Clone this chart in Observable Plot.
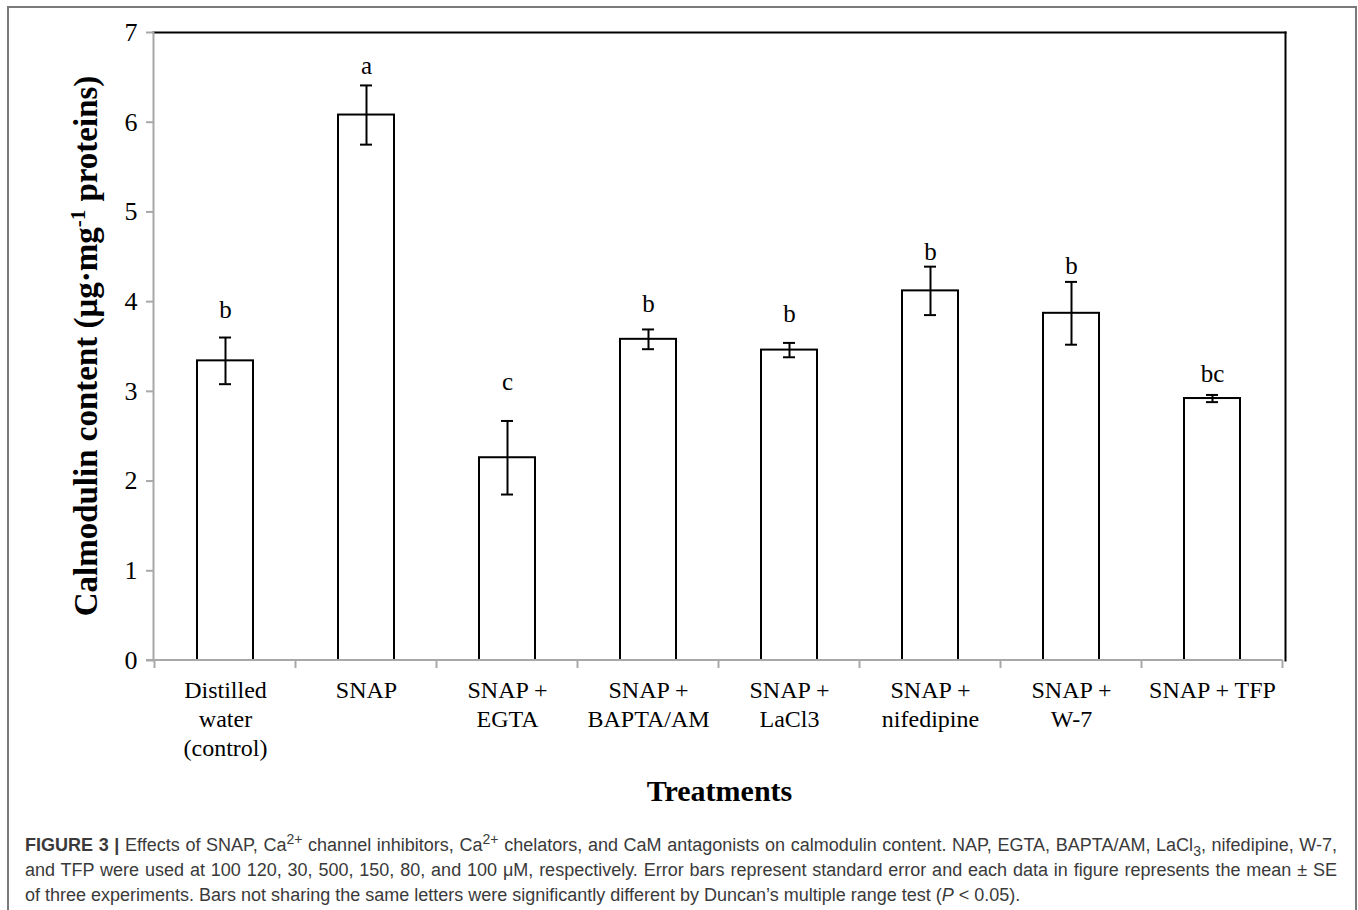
<!DOCTYPE html>
<html><head><meta charset="utf-8">
<script src="https://cdn.jsdelivr.net/npm/d3@7"></script>
<script src="https://cdn.jsdelivr.net/npm/@observablehq/plot@0.6"></script>
<style>
body{margin:0;background:#fff;width:1358px;height:910px;overflow:hidden;position:relative;}
#frame{position:absolute;left:7px;top:6px;width:1350px;height:1000px;border:2px solid #7a7a7a;border-bottom:none;box-sizing:border-box;}
#chart{position:absolute;left:0;top:0;}
#caption{position:absolute;left:25px;top:833px;width:1312px;font-family:"Liberation Sans",Arial,sans-serif;font-size:18px;line-height:25px;color:#3a3a3a;}
#caption div{white-space:nowrap;}
#caption .j{text-align:justify;text-align-last:justify;white-space:normal;}
#caption sup,#caption sub{font-size:0.78em;line-height:0;}
</style></head><body>
<div id="frame"></div>
<div id="chart"></div>
<div id="caption">
<div class="j"><b>FIGURE 3 |</b> Effects of SNAP, Ca<sup>2+</sup> channel inhibitors, Ca<sup>2+</sup> chelators, and CaM antagonists on calmodulin content. NAP, EGTA, BAPTA/AM, LaCl<sub>3</sub>, nifedipine, W-7,</div>
<div class="j">and TFP were used at 100 120, 30, 500, 150, 80, and 100 μM, respectively. Error bars represent standard error and each data in figure represents the mean ± SE</div>
<div>of three experiments. Bars not sharing the same letters were significantly different by Duncan’s multiple range test (<i>P</i> &lt; 0.05).</div>
</div>
<script>
const categories = ["Distilled water (control)", "SNAP", "SNAP + EGTA", "SNAP + BAPTA/AM", "SNAP + LaCl3", "SNAP + nifedipine", "SNAP + W-7", "SNAP + TFP"];
const tickLabels = ["Distilled\nwater\n(control)", "SNAP", "SNAP +\nEGTA", "SNAP +\nBAPTA/AM", "SNAP +\nLaCl3", "SNAP +\nnifedipine", "SNAP +\nW-7", "SNAP + TFP"];
const means = [3.34, 6.08, 2.26, 3.58, 3.46, 4.12, 3.87, 2.92];
const errors = [0.26, 0.33, 0.41, 0.11, 0.08, 0.27, 0.35, 0.04];
const letters = ["b", "a", "c", "b", "b", "b", "b", "bc"];
const letterY = [3.82, 6.54, 3.02, 3.89, 3.77, 4.46, 4.31, 3.10];
const yTicks = [0, 1, 2, 3, 4, 5, 6, 7];
const xTitle = "Treatments";

const GRAY = "#a8a8a8";
const data = categories.map((c, i) => ({
  cat: c, mean: means[i], lo: means[i] - errors[i], hi: means[i] + errors[i],
  letter: letters[i], ly: letterY[i]
}));

function boundaryTicks(index, scales, values, dimensions) {
  const x = scales.x;
  let bw, step;
  if (typeof x.bandwidth === "function") { bw = x.bandwidth(); step = x.step(); }
  else { bw = 0; step = x(categories[1]) - x(categories[0]); }
  const y0 = dimensions.height - dimensions.marginBottom;
  const g = d3.create("svg:g").attr("stroke", GRAY).attr("stroke-width", 2);
  const edges = categories.map(c => x(c) + bw / 2 - step / 2);
  edges.push(x(categories[categories.length - 1]) + bw / 2 + step / 2);
  for (const e of edges) g.append("line").attr("x1", e).attr("x2", e).attr("y1", y0).attr("y2", y0 + 8);
  g.append("line").attr("x1", dimensions.marginLeft - 7).attr("x2", edges[edges.length - 1]).attr("y1", y0).attr("y2", y0);
  return g.node();
}

const plot = Plot.plot({
  width: 1358,
  height: 820,
  marginLeft: 153,
  marginRight: 73,
  marginTop: 32,
  marginBottom: 160,
  style: {fontFamily: "'Liberation Serif', 'Times New Roman', serif", color: "black", background: "transparent", overflow: "visible"},
  x: {domain: categories, paddingInner: 0.6, paddingOuter: 0.3, label: null},
  y: {domain: [0, 7], label: null},
  marks: [
    Plot.barY(data, {x: "cat", y: "mean", fill: "white", stroke: "black", strokeWidth: 2}),
    Plot.ruleX(data, {x: "cat", y1: "lo", y2: "hi", stroke: "black", strokeWidth: 2}),
    Plot.tickY(data, {x: "cat", y: "hi", stroke: "black", strokeWidth: 2, insetLeft: 22, insetRight: 22}),
    Plot.tickY(data, {x: "cat", y: "lo", stroke: "black", strokeWidth: 2, insetLeft: 22, insetRight: 22}),
    Plot.text(data, {x: "cat", y: "ly", text: "letter", lineAnchor: "bottom", fontSize: 25, fill: "black"}),
    Plot.frame({anchor: "top", stroke: "black", strokeWidth: 2}),
    Plot.frame({anchor: "right", stroke: "black", strokeWidth: 2}),
    Plot.frame({anchor: "left", stroke: GRAY, strokeWidth: 2}),
    Plot.axisY({ticks: yTicks, tickSize: 7, tickPadding: 9, fontSize: 26, stroke: GRAY, strokeWidth: 2, label: null, tickFormat: d => String(d)}),
    Plot.axisX({tickSize: 0, tickPadding: 17, fontSize: 24, lineHeight: 1.2, label: null, tickFormat: d => tickLabels[categories.indexOf(d)]}),
    boundaryTicks,
    Plot.text([xTitle], {frameAnchor: "bottom", dy: 140, text: d => d, fontSize: 30, fontWeight: "bold", lineAnchor: "bottom", fill: "black"})
  ]
});
document.getElementById("chart").appendChild(plot);

// y-axis title with superscript
const svg = d3.select(plot);
const t = svg.append("text")
  .attr("transform", "translate(97,346) rotate(-90)")
  .attr("text-anchor", "middle")
  .attr("font-family", "'Liberation Serif', 'Times New Roman', serif")
  .attr("font-weight", "bold")
  .attr("font-size", 33)
  .attr("fill", "black");
t.append("tspan").text("Calmodulin content (μg·mg");
t.append("tspan").attr("font-size", 21).attr("dy", -12).text("-1");
t.append("tspan").attr("dy", 12).text(" proteins)");
</script>
</body></html>
